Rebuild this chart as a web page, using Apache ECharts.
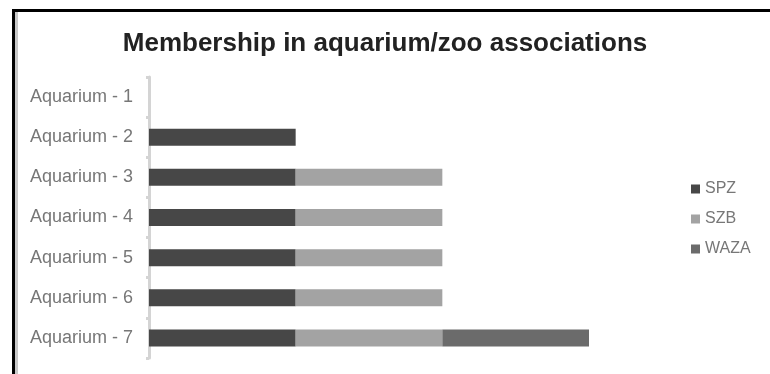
<!DOCTYPE html>
<html>
<head>
<meta charset="utf-8">
<script src="https://cdn.jsdelivr.net/npm/echarts@6/dist/echarts.min.js"></script>
<style>
  html, body { margin: 0; padding: 0; background: #fff; }
  #chart { width: 770px; height: 374px; }
</style>
</head>
<body>
<div id="chart"></div>
<script>
// Aquaria and their association memberships (1 = member)
const categories = ['Aquarium - 1', 'Aquarium - 2', 'Aquarium - 3', 'Aquarium - 4', 'Aquarium - 5', 'Aquarium - 6', 'Aquarium - 7'];
const seriesNames = ['SPZ', 'SZB', 'WAZA'];
const spz  = [0, 1, 1, 1, 1, 1, 1];
const szb  = [0, 0, 1, 1, 1, 1, 1];
const waza = [0, 0, 0, 0, 0, 0, 1];
const colors = ['#474747', '#a3a3a3', '#6b6b6b'];

const chart = echarts.init(document.getElementById('chart'));
const values = [spz, szb, waza];

chart.setOption({
  animation: false,
  backgroundColor: '#fff',
  title: {
    text: 'Membership in aquarium/zoo associations',
    left: 'center',
    top: 26,
    textStyle: { fontFamily: 'Liberation Sans', fontSize: 26, fontWeight: 'bold', color: '#222' }
  },
  legend: {
    orient: 'vertical',
    left: 686,
    top: 176,
    itemWidth: 9,
    itemHeight: 9,
    itemGap: 14,
    icon: 'rect',
    data: seriesNames,
    textStyle: { fontFamily: 'Liberation Sans', fontSize: 16, color: '#777' }
  },
  grid: { left: 149, right: 181, top: 77, bottom: 16 },
  xAxis: {
    type: 'value',
    min: 0,
    max: 3,
    show: false
  },
  yAxis: {
    type: 'category',
    inverse: true,
    data: categories,
    axisLine: { show: true, lineStyle: { color: '#d4d4d4', width: 3 } },
    axisTick: { show: true, length: 3, lineStyle: { color: '#d4d4d4', width: 3 } },
    axisLabel: { fontFamily: 'Liberation Sans', fontSize: 18, color: '#777', margin: 16 },
    splitLine: { show: false }
  },
  series: seriesNames.map((name, i) => ({
    name: name,
    type: 'bar',
    stack: 'total',
    barWidth: 17,
    data: values[i],
    itemStyle: { color: colors[i] }
  })),
  graphic: [
    { type: 'rect', shape: { x: 12, y: 9, width: 770, height: 3 }, style: { fill: '#000' } },
    { type: 'rect', shape: { x: 12, y: 9, width: 3, height: 380 }, style: { fill: '#000' } },
    { type: 'rect', shape: { x: 15, y: 12, width: 3, height: 380 }, style: { fill: '#c8c8c8' } }
  ]
});
</script>
</body>
</html>
